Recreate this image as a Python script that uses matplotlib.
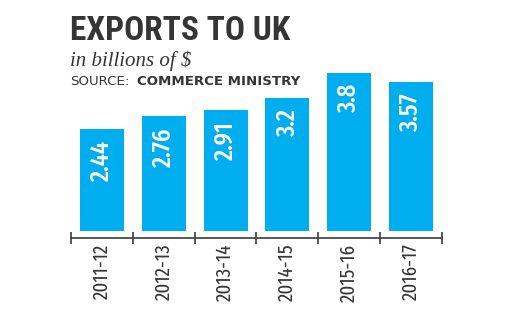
import matplotlib.pyplot as plt
import numpy as np

years = ['2011-12', '2012-13', '2013-14', '2014-15', '2015-16', '2016-17']
exports = [2.44, 2.76, 2.91, 3.2, 3.8, 3.57]
value_labels = ['2.44', '2.76', '2.91', '3.2', '3.8', '3.57']

blue = '#00aeef'
dark = '#353535'
cond = 'Fira Sans Extra Condensed'

fig = plt.figure(figsize=(5.15, 3.22), dpi=100)
ax = fig.add_axes([0.138, 0.2826, 0.720, 0.518])

x = np.arange(len(years))
ax.bar(x, exports, width=0.71, color=blue)

for xi, v, lab in zip(x, exports, value_labels):
    ax.annotate(lab, (xi, v), xytext=(0, -8), textcoords='offset points',
                rotation=90, ha='center', va='top', color='white',
                fontsize=19, fontfamily=cond, fontweight=500)

ax.set_xlim(-0.5, len(years) - 0.5)
ax.set_ylim(0, 4.0)

for side in ['top', 'right', 'left']:
    ax.spines[side].set_visible(False)
ax.spines['bottom'].set_position(('outward', 5))
ax.spines['bottom'].set_color('#4a4a4a')
ax.spines['bottom'].set_linewidth(1.3)
ax.set_yticks([])

# tick marks sit between the bars, labels under the bar centres
ax.set_xticks(np.arange(len(years) + 1) - 0.5)
ax.set_xticklabels([])
ax.tick_params(axis='x', which='major', direction='inout', length=9,
               width=1.3, color='#4a4a4a')
ax.set_xticks(x, minor=True)
ax.set_xticklabels(years, minor=True, rotation=90, fontsize=14.8,
                   fontfamily=cond, color=dark, va='top')
ax.tick_params(axis='x', which='minor', length=0, pad=4)

fig.text(0.136, 0.876, 'EXPORTS TO UK', fontsize=24, fontfamily='Roboto Condensed',
         fontweight='bold', color=dark, va='baseline')
fig.text(0.136, 0.795, 'in billions of $', fontsize=15,
         fontfamily='Liberation Serif', style='italic', color=dark, va='baseline')
fig.text(0.136, 0.736, 'SOURCE:', fontsize=9.6, fontfamily='DejaVu Sans',
         color=dark, va='baseline')
fig.text(0.266, 0.736, 'COMMERCE MINISTRY', fontsize=9.6, fontfamily='DejaVu Sans',
         fontweight='bold', color=dark, va='baseline')

fig.savefig('out.png', dpi=100, facecolor='white')
